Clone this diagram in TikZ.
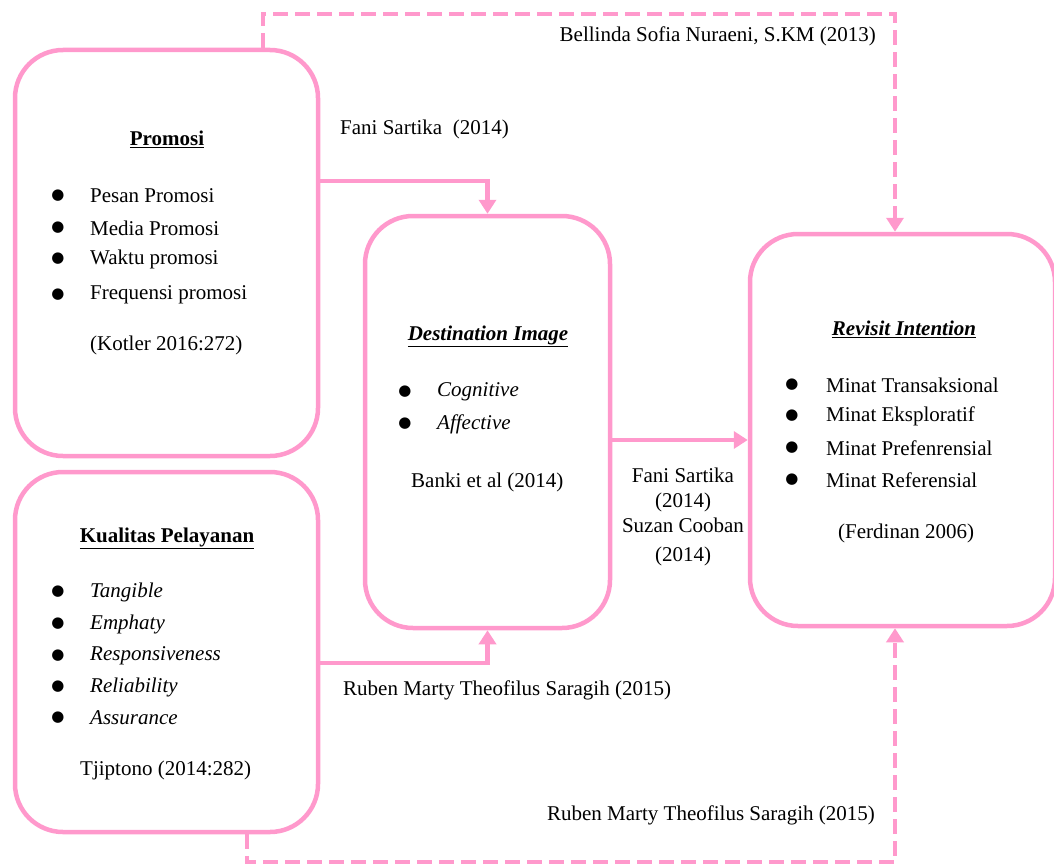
\documentclass[tikz,border=0pt]{standalone}
\usepackage{fontspec}
\setmainfont{Liberation Serif}
\newfontfamily\symfont{DejaVu Sans}
\usetikzlibrary{arrows.meta,calc}
\definecolor{rosa}{RGB}{255,153,204}
\tikzset{
  box/.style={draw=rosa, line width=4.5pt, rounded corners=48pt, inner sep=0pt},
  link/.style={draw=rosa, line width=4.5pt, -{Triangle[width=17pt,length=14pt]}},
  dlink/.style={link, dash pattern=on 15pt off 7pt},
  txt/.style={inner sep=0pt, font=\fontsize{21}{25}\selectfont},
  dot/.style={inner sep=0pt, font=\symfont\fontsize{15}{18}\selectfont},
}
\begin{document}
\begin{tikzpicture}[x=1pt, y=-1pt]
\useasboundingbox (0,0) rectangle (1054,867);

% boxes
\node[box, minimum width=303pt, minimum height=406pt] (promo) at (166.5,253) {};
\node[box, minimum width=303pt, minimum height=360pt] (kual) at (166.5,652) {};
\node[box, minimum width=245pt, minimum height=412pt] (dest) at (487.5,422) {};
\node[box, minimum width=305pt, minimum height=392pt] (rev) at (902.5,430) {};

% Promosi
\node[txt] (promoT) at (167,139) {\textbf{\underline{Promosi}}};
\foreach \y/\t [count=\i] in {196/Pesan Promosi, 228/Media Promosi, 259/Waktu promosi, 295/Frequensi promosi}{
  \node[dot] (pb\i) at (58,\y) {●};
  \node[txt, anchor=west] (pi\i) at (90,\y) {\t};
}
\node[txt, anchor=west] (promoR) at (90,345) {(Kotler 2016:272)};

% Kualitas Pelayanan
\node[txt] (kualT) at (167,538) {\textbf{\underline{Kualitas Pelayanan}}};
\foreach \y/\t [count=\i] in {592/Tangible, 624/Emphaty, 656/Responsiveness, 687/Reliability, 718/Assurance}{
  \node[dot] (kb\i) at (58,\y) {●};
  \node[txt, anchor=west] (ki\i) at (90,\y) {\textit{\t}};
}
\node[txt, anchor=west] (kualR) at (80,770) {Tjiptono (2014:282)};

% Destination Image
\node[txt] (destT) at (488,336) {\textbf{\textit{\underline{Destination Image}}}};
\foreach \y/\t [count=\i] in {392/Cognitive, 424/Affective}{
  \node[dot] (db\i) at (405,\y) {●};
  \node[txt, anchor=west] (di\i) at (437,\y) {\textit{\t}};
}
\node[txt, anchor=west] (destR) at (411,482) {Banki et al (2014)};

% Revisit Intention
\node[txt] (revT) at (904,329) {\textbf{\textit{\underline{Revisit Intention}}}};
\foreach \y/\t [count=\i] in {385/Minat Transaksional, 416/Minat Eksploratif, 448/Minat Prefenrensial, 480/Minat Referensial}{
  \node[dot] (rb\i) at (792,\y) {●};
  \node[txt, anchor=west] (ri\i) at (826,\y) {\t};
}
\node[txt, anchor=west] (revR) at (838,533) {(Ferdinan 2006)};

% connectors
\draw[link] ([yshift=72pt]promo.east) -| (dest.north);
\draw[link] ([yshift=-11pt]kual.east) -| (dest.south);
\draw[link] ([yshift=-18pt]dest.east) -- ([yshift=-18pt]dest.east -| rev.west);

\coordinate (topY) at (0,14);
\coordinate (botY) at (0,862);
\coordinate (pTop) at ([xshift=96.5pt]promo.north);
\coordinate (kBot) at ([xshift=80.5pt]kual.south);
\coordinate (rTop) at ([xshift=-7.5pt]rev.north);
\coordinate (rBot) at ([xshift=-7.5pt]rev.south);
\draw[dlink] (pTop) -- (pTop |- topY) -| (rTop);
\draw[dlink] (kBot) -- (kBot |- botY) -| (rBot);

% connector labels
\node[txt, anchor=east] (lb1) at (876,36) {Bellinda Sofia Nuraeni, S.KM (2013)};
\node[txt, anchor=west] (lb2) at (340,129) {Fani Sartika\ \ (2014)};
\node[txt, anchor=west] (lb3) at (343,690) {Ruben Marty Theofilus Saragih (2015)};
\node[txt, anchor=east] (lb4) at (875,815) {Ruben Marty Theofilus Saragih (2015)};
\node[txt, align=center] (lb5) at (683,517) {Fani Sartika\\(2014)\\Suzan Cooban\\[4pt](2014)};
\end{tikzpicture}
\end{document}
